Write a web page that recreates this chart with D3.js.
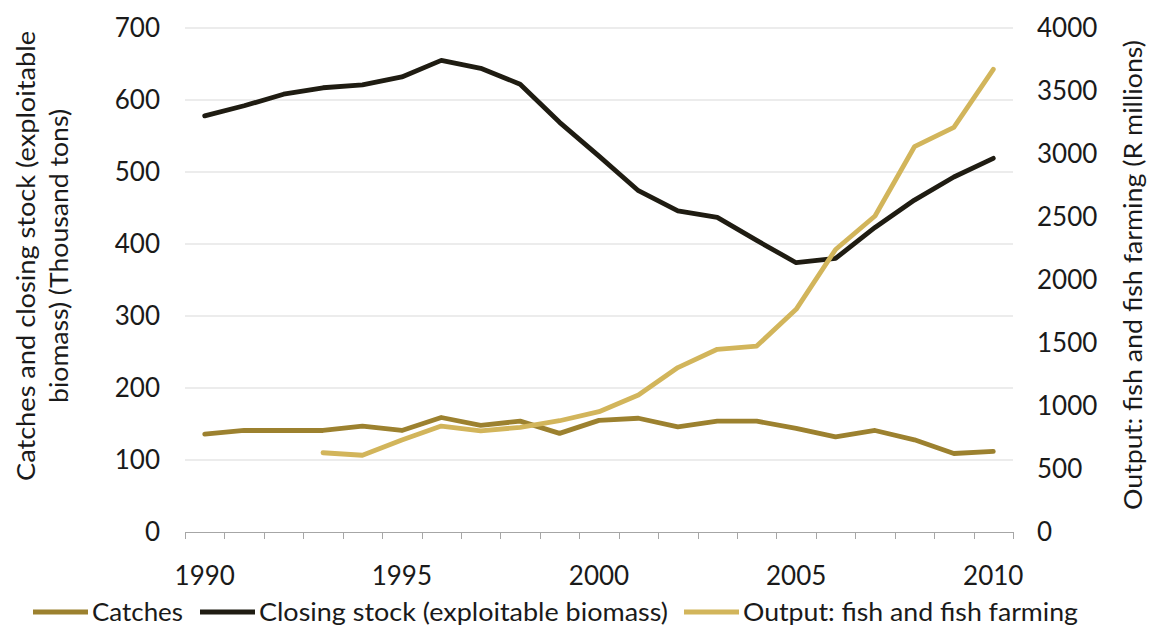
<!DOCTYPE html>
<html>
<head>
<meta charset="utf-8">
<script src="https://cdn.jsdelivr.net/npm/d3@7"></script>
<style>
  html, body { margin: 0; padding: 0; background: #fff; }
  svg { display: block; }
  text { font-family: Lato, "Open Sans", sans-serif; fill: #1a1a1a; }
</style>
</head>
<body>
<svg id="chart" width="1150" height="628"></svg>
<script>
// Years on the category axis
const years = d3.range(1990, 2011);
const yearLabels = [1990, 1995, 2000, 2005, 2010];

// Catches, thousand tons (left axis)
const catches = [136, 141, 141, 141, 147, 141, 159, 148, 154, 137, 155, 158, 146, 154, 154, 144, 132, 141, 128, 109, 112];

// Closing stock (exploitable biomass), thousand tons (left axis)
const closingStock = [578, 592, 608, 617, 621, 632, 655, 644, 622, 569, 522, 474, 446, 437, 405, 374, 380, 423, 461, 493, 519];

// Output: fish and fish farming, R millions (right axis); series starts in 1993
const outputYears = d3.range(1993, 2011);
const output = [629, 609, 730, 841, 802, 831, 883, 955, 1087, 1305, 1450, 1476, 1767, 2242, 2508, 3058, 3212, 3672];

const leftTicks = [0, 100, 200, 300, 400, 500, 600, 700];
const rightTicks = [0, 500, 1000, 1500, 2000, 2500, 3000, 3500, 4000];

const colors = { catches: "#9c812f", stock: "#1f1c12", output: "#d2b55b" };

const svg = d3.select("#chart");
const plot = { left: 185, right: 1013, top: 28, bottom: 532 };

const xBand = d3.scaleBand().domain(years).range([plot.left, plot.right]).paddingInner(0).paddingOuter(0);
const xc = yr => xBand(yr) + xBand.bandwidth() / 2;
const yL = d3.scaleLinear().domain([0, 700]).range([plot.bottom, plot.top]);
const yR = d3.scaleLinear().domain([0, 4000]).range([plot.bottom, plot.top]);

// Horizontal gridlines
svg.append("g").selectAll("line").data(leftTicks.slice(1)).join("line")
  .attr("x1", plot.left).attr("x2", plot.right)
  .attr("y1", d => yL(d)).attr("y2", d => yL(d))
  .attr("stroke", "#d9d9d9").attr("stroke-width", 1);

// Bottom axis line with tick marks at category boundaries
const boundaries = years.map(y => xBand(y)).concat([plot.right]);
svg.append("line")
  .attr("x1", plot.left).attr("x2", plot.right)
  .attr("y1", plot.bottom + 0.5).attr("y2", plot.bottom + 0.5)
  .attr("stroke", "#a6a6a6").attr("stroke-width", 1);
svg.append("g").selectAll("line").data(boundaries).join("line")
  .attr("x1", d => Math.round(d) + 0.5).attr("x2", d => Math.round(d) + 0.5)
  .attr("y1", plot.bottom).attr("y2", plot.bottom + 7)
  .attr("stroke", "#a6a6a6").attr("stroke-width", 1);

// Tick labels
const tickFont = 26;
svg.append("g").selectAll("text").data(yearLabels).join("text")
  .attr("x", d => xc(d)).attr("y", 585)
  .attr("text-anchor", "middle").attr("font-size", tickFont)
  .text(d => d);

svg.append("g").selectAll("text").data(leftTicks).join("text")
  .attr("x", 160).attr("y", d => yL(d) + 9)
  .attr("text-anchor", "end").attr("font-size", tickFont)
  .text(d => d);

svg.append("g").selectAll("text").data(rightTicks).join("text")
  .attr("x", 1037).attr("y", d => yR(d) + 9)
  .attr("text-anchor", "start").attr("font-size", tickFont)
  .text(d => d);

// Axis titles
const leftTitle = svg.append("text")
  .attr("transform", "translate(35,256) rotate(-90)")
  .attr("text-anchor", "middle").attr("font-size", 25);
leftTitle.append("tspan").attr("x", 0).attr("dy", 0)
  .attr("textLength", 450).attr("lengthAdjust", "spacingAndGlyphs")
  .text("Catches and closing stock (exploitable");
leftTitle.append("tspan").attr("x", 0).attr("dy", 33)
  .attr("textLength", 294).attr("lengthAdjust", "spacingAndGlyphs")
  .text("biomass) (Thousand tons)");

svg.append("text")
  .attr("transform", "translate(1142,275) rotate(-90)")
  .attr("text-anchor", "middle").attr("font-size", 25)
  .attr("textLength", 470).attr("lengthAdjust", "spacingAndGlyphs")
  .text("Output: fish and fish farming (R millions)");

// Series lines
const lineL = d3.line().x(d => xc(d.year)).y(d => yL(d.value));
const lineR = d3.line().x(d => xc(d.year)).y(d => yR(d.value));

const series = [
  { key: "catches", data: years.map((y, i) => ({ year: y, value: catches[i] })), line: lineL },
  { key: "stock", data: years.map((y, i) => ({ year: y, value: closingStock[i] })), line: lineL },
  { key: "output", data: outputYears.map((y, i) => ({ year: y, value: output[i] })), line: lineR }
];

svg.append("g").selectAll("path").data(series).join("path")
  .attr("d", s => s.line(s.data))
  .attr("fill", "none")
  .attr("stroke", s => colors[s.key])
  .attr("stroke-width", 4.8)
  .attr("stroke-linejoin", "round")
  .attr("stroke-linecap", "round");

// Legend
const legendItems = [
  { key: "catches", label: "Catches", x: 33, w: 150 },
  { key: "stock", label: "Closing stock (exploitable biomass)", x: 200, w: 468 },
  { key: "output", label: "Output: fish and fish farming", x: 684, w: 394 }
];
const lg = svg.append("g").selectAll("g").data(legendItems).join("g")
  .attr("transform", d => `translate(${d.x},612)`);
lg.append("line")
  .attr("x1", 0).attr("x2", 55).attr("y1", 0).attr("y2", 0)
  .attr("stroke", d => colors[d.key]).attr("stroke-width", 4.8);
lg.append("text")
  .attr("x", 59).attr("y", 9).attr("font-size", 25)
  .attr("textLength", d => d.w - 59)
  .attr("lengthAdjust", "spacingAndGlyphs")
  .text(d => d.label);
</script>
</body>
</html>
